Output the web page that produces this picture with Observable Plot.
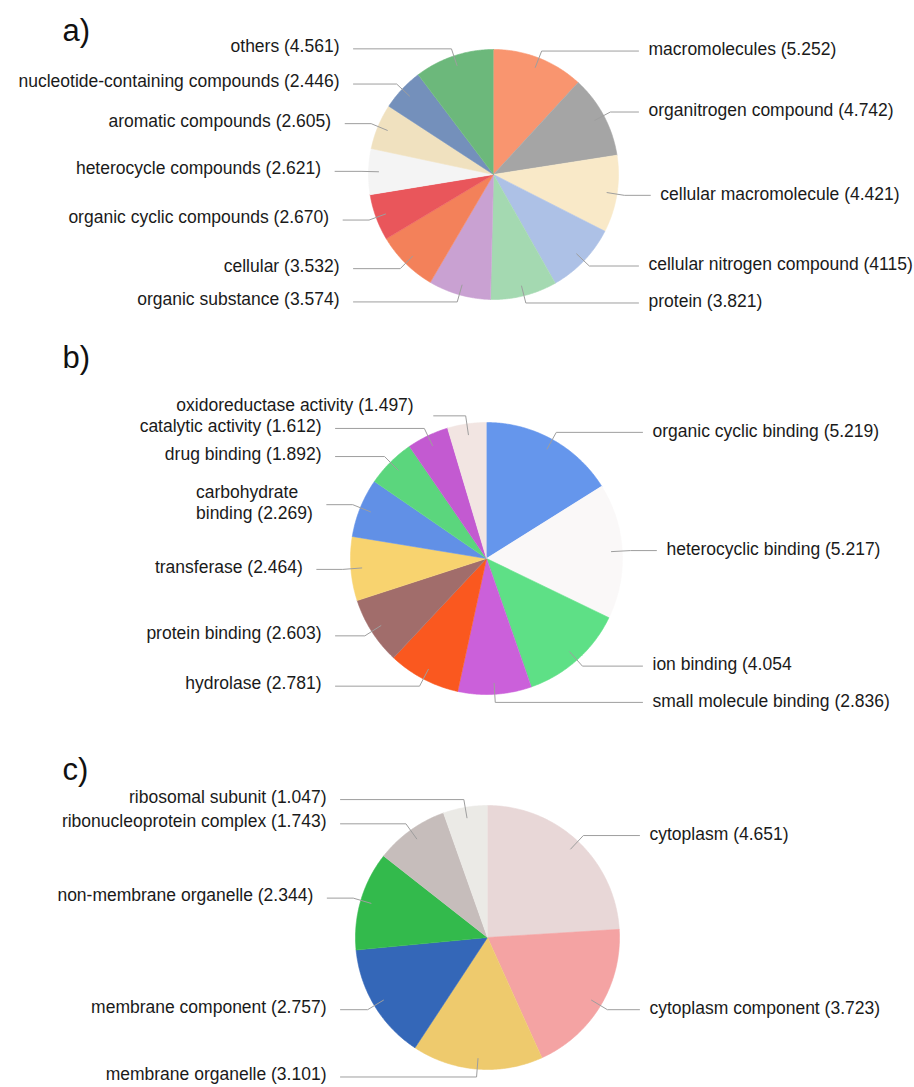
<!DOCTYPE html>
<html>
<head>
<meta charset="utf-8">
<script src="https://cdn.jsdelivr.net/npm/d3@7"></script>
<script src="https://cdn.jsdelivr.net/npm/@observablehq/plot@0.6"></script>
<style>
  html, body { margin: 0; padding: 0; background: #fff; }
  #chart svg { display: block; }
</style>
</head>
<body>
<div id="chart"></div>
<script>
// ---------- data ----------
const categoriesA = ["macromolecules", "organitrogen compound", "cellular macromolecule", "cellular nitrogen compound", "protein", "organic substance", "cellular", "organic cyclic compounds", "heterocycle compounds", "aromatic compounds", "nucleotide-containing compounds", "others"];
const valuesA = [5.252, 4.742, 4.421, 4.115, 3.821, 3.574, 3.532, 2.670, 2.621, 2.605, 2.446, 4.561];
const labelsA = ["macromolecules (5.252)", "organitrogen compound (4.742)", "cellular macromolecule (4.421)", "cellular nitrogen compound (4115)", "protein (3.821)", "organic substance (3.574)", "cellular (3.532)", "organic cyclic compounds (2.670)", "heterocycle compounds (2.621)", "aromatic compounds (2.605)", "nucleotide-containing compounds (2.446)", "others (4.561)"];
const colorsA = ["#F9956F", "#A5A5A5", "#F9E9C8", "#ADC1E6", "#A4D9B1", "#C9A1D2", "#F3815A", "#E9565B", "#F4F4F4", "#F0E1BF", "#7490BB", "#6CB87B"];

const categoriesB = ["organic cyclic binding", "heterocyclic binding", "ion binding", "small molecule binding", "hydrolase", "protein binding", "transferase", "carbohydrate binding", "drug binding", "catalytic activity", "oxidoreductase activity"];
const valuesB = [5.219, 5.217, 4.054, 2.836, 2.781, 2.603, 2.464, 2.269, 1.892, 1.612, 1.497];
const labelsB = ["organic cyclic binding (5.219)", "heterocyclic binding (5.217)", "ion binding (4.054", "small molecule binding (2.836)", "hydrolase (2.781)", "protein binding (2.603)", "transferase (2.464)", "carbohydrate\nbinding (2.269)", "drug binding (1.892)", "catalytic activity (1.612)", "oxidoreductase activity (1.497)"];
const colorsB = ["#6596EC", "#FAF8F8", "#5EE086", "#CB60DA", "#FA581F", "#A16D6B", "#F8D36F", "#6190E6", "#5BD67D", "#C35AD1", "#F2E5E2"];

const categoriesC = ["cytoplasm", "cytoplasm component", "membrane organelle", "membrane component", "non-membrane organelle", "ribonucleoprotein complex", "ribosomal subunit"];
const valuesC = [4.651, 3.723, 3.101, 2.757, 2.344, 1.743, 1.047];
const labelsC = ["cytoplasm (4.651)", "cytoplasm component (3.723)", "membrane organelle (3.101)", "membrane component (2.757)", "non-membrane organelle (2.344)", "ribonucleoprotein complex (1.743)", "ribosomal subunit (1.047)"];
const colorsC = ["#E8D7D7", "#F4A3A3", "#EECA6D", "#3467B8", "#33BA4C", "#C6BDBB", "#EBEAE6"];

const panelLetters = ["a)", "b)", "c)"];

// ---------- layout ----------
const W = 914, H = 1087;
const FONT = "'Liberation Sans', Arial, Helvetica, sans-serif";
const FS = 17.5;
const LH = 21;
const layout = [
  {cx: 493, cy: 174, r: 125, letterY: 31},
  {cx: 486, cy: 558, r: 136, letterY: 358},
  {cx: 487, cy: 937, r: 132, letterY: 770}
];
const series = [
  {cats: categoriesA, vals: valuesA, labels: labelsA, colors: colorsA},
  {cats: categoriesB, vals: valuesB, labels: labelsB, colors: colorsB},
  {cats: categoriesC, vals: valuesC, labels: labelsC, colors: colorsC}
];

const ctx = document.createElement("canvas").getContext("2d");
ctx.font = `${FS}px ${FONT}`;

const slicePts = [], leaderPts = [], textStart = [], textEnd = [], letters = [];

series.forEach((s, pi) => {
  const p = layout[pi];
  letters.push({x: 62, y: p.letterY, text: panelLetters[pi]});
  const arcs = d3.pie().sort(null).value(d => d)(s.vals);
  const items = arcs.map((a, i) => {
    const id = `${pi}-${i}`;
    const span = a.endAngle - a.startAngle;
    const steps = Math.max(2, Math.ceil(span / (Math.PI / 360)));
    slicePts.push({id, x: p.cx, y: p.cy, color: s.colors[i]});
    for (let k = 0; k <= steps; k++) {
      const t = a.startAngle + span * k / steps;
      slicePts.push({id, x: p.cx + p.r * Math.sin(t), y: p.cy - p.r * Math.cos(t), color: s.colors[i]});
    }
    const m = (a.startAngle + a.endAngle) / 2;
    const side = m < Math.PI ? 1 : -1;
    const inner = {x: p.cx + 0.92 * p.r * Math.sin(m), y: p.cy - 0.92 * p.r * Math.cos(m)};
    const elbow = {x: p.cx + 1.06 * p.r * Math.sin(m), y: p.cy - 1.06 * p.r * Math.cos(m)};
    const lines = s.labels[i].split("\n");
    return {id, side, inner, elbow, labelY: elbow.y, lines, text: s.labels[i]};
  });
  // resolve label overlaps per side (push upward)
  [1, -1].forEach(side => {
    const list = items.filter(d => d.side === side).sort((u, v) => u.elbow.y - v.elbow.y);
    for (let j = list.length - 2; j >= 0; j--) {
      const gap = (list[j].lines.length + list[j + 1].lines.length) * LH / 2;
      if (list[j].labelY > list[j + 1].labelY - gap) list[j].labelY = list[j + 1].labelY - gap;
    }
  });
  items.forEach(d => {
    const displaced = Math.abs(d.labelY - d.elbow.y) > 4;
    let lineEnd, tx;
    if (d.side === 1) {
      lineEnd = displaced ? d.elbow.x + 32 : Math.max(p.cx + p.r + 20, d.elbow.x + 26);
      tx = lineEnd + (displaced ? 20 : 10);
    } else {
      lineEnd = displaced ? d.elbow.x - 32 : Math.min(p.cx - p.r - 15, d.elbow.x - 26);
      tx = lineEnd - (displaced ? 20 : 14);
    }
    leaderPts.push({id: d.id, x: d.inner.x, y: d.inner.y});
    leaderPts.push({id: d.id, x: d.elbow.x, y: d.elbow.y});
    leaderPts.push({id: d.id, x: lineEnd, y: d.elbow.y});
    const ty = d.labelY - 2.5;
    if (d.side === 1) {
      textStart.push({x: tx, y: ty, text: d.text});
    } else if (d.lines.length > 1) {
      const wmax = d3.max(d.lines, l => ctx.measureText(l).width);
      textStart.push({x: tx - wmax, y: ty, text: d.text});
    } else {
      textEnd.push({x: tx, y: ty, text: d.text});
    }
  });
});

const chart = Plot.plot({
  width: W,
  height: H,
  margin: 0,
  x: {domain: [0, W], range: [0, W], axis: null},
  y: {domain: [0, H], range: [0, H], axis: null},
  style: {fontFamily: FONT, background: "#fff"},
  marks: [
    Plot.line(slicePts, {x: "x", y: "y", z: "id", fill: "color", stroke: "color", strokeWidth: 0.6, curve: "linear"}),
    Plot.line(leaderPts, {x: "x", y: "y", z: "id", stroke: "#9e9e9e", strokeWidth: 1}),
    Plot.text(textStart, {x: "x", y: "y", text: "text", textAnchor: "start", lineAnchor: "middle", lineHeight: LH / FS, fontSize: FS, fill: "#1a1a1a"}),
    Plot.text(textEnd, {x: "x", y: "y", text: "text", textAnchor: "end", lineAnchor: "middle", fontSize: FS, fill: "#1a1a1a"}),
    Plot.text(letters, {x: "x", y: "y", text: "text", textAnchor: "start", lineAnchor: "middle", fontSize: 31, fill: "#111"})
  ]
});
document.getElementById("chart").appendChild(chart);
</script>
</body>
</html>
